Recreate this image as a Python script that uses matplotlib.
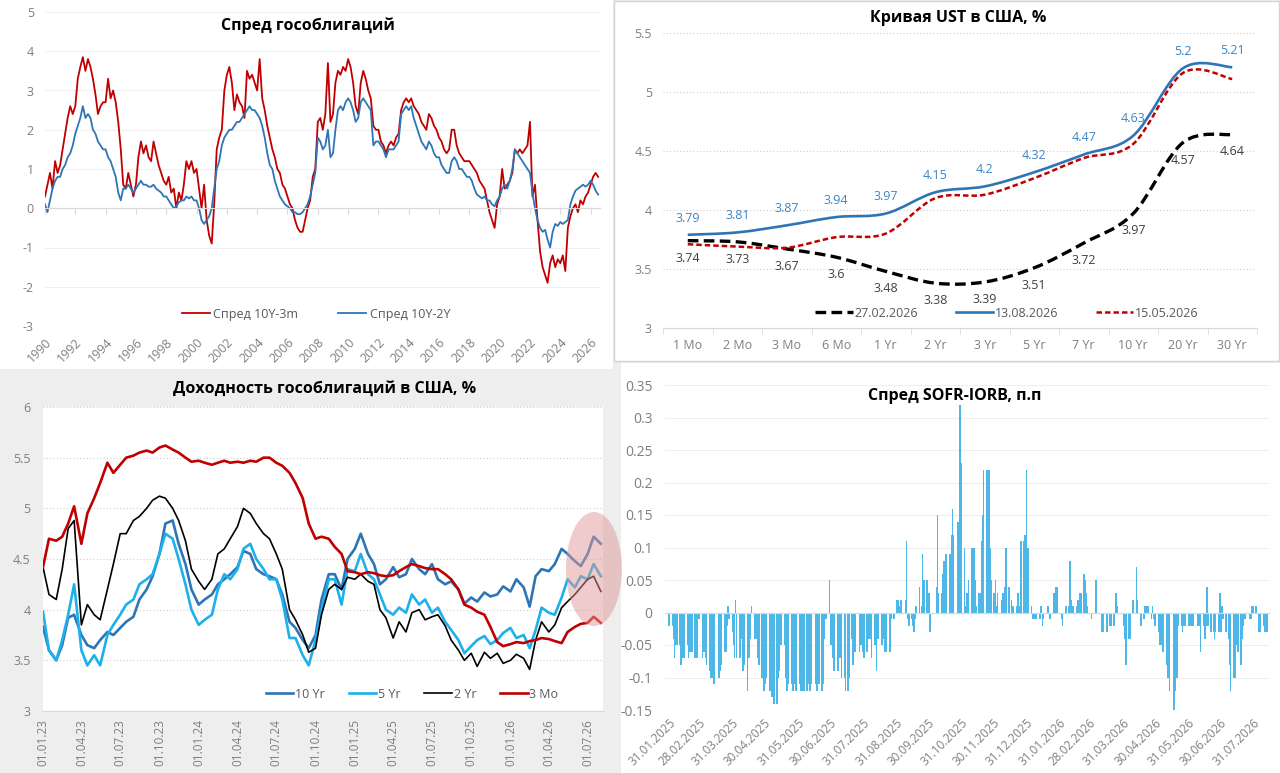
import numpy as np
import pandas as pd
import matplotlib
matplotlib.use("Agg")
import matplotlib.pyplot as plt
from matplotlib.lines import Line2D
from matplotlib.patches import Rectangle, Ellipse, PathPatch
from matplotlib.path import Path

plt.rcParams["font.family"] = ["Open Sans", "DejaVu Sans"]

W, H = 1280, 773
TICK_C = "#7f7f7f"
LEG_C = "#595959"
GRID_C = "#d9d9d9"

# ---------------- panel 1: spreads, every two months from Jan 1990 ----------------
spread_10y3m = [
    0.3, 0.6, 0.9, 0.5, 1.2, 0.9,   1.1, 1.5, 1.9, 2.3, 2.6, 2.4,   2.6, 3.3, 3.6, 3.85, 3.5, 3.8,
    3.6, 3.3, 2.9, 2.4, 2.6, 2.7,   2.7, 3.3, 2.8, 3.0, 2.7, 2.2,   1.5, 0.6, 0.5, 0.9, 0.6, 0.3,
    0.6, 1.3, 1.7, 1.4, 1.6, 1.3,   1.2, 1.7, 1.4, 1.1, 0.9, 0.7,   0.6, 0.8, 0.4, 0.5, 0.0, 0.4,
    0.2, 0.6, 1.2, 1.0, 1.2, 0.9,   1.0, 0.5, 0.0, 0.6, -0.3, -0.7, -0.9, 0.1, 1.5, 1.8, 2.0, 3.0,
    3.4, 3.6, 3.2, 2.5, 2.9, 2.7,   2.6, 2.3, 3.5, 3.3, 3.4, 3.2,   3.0, 3.8, 2.8, 2.5, 2.1, 1.8,
    1.5, 1.3, 1.0, 0.9, 0.6, 0.5,   0.3, 0.1, 0.0, -0.3, -0.5, -0.6, -0.6, -0.3, 0.0, 0.2, 0.8, 1.0,
    2.2, 2.3, 2.0, 2.4, 3.7, 2.2,   2.4, 3.2, 3.5, 3.4, 3.6, 3.5,   3.8, 3.6, 3.2, 2.6, 2.4, 3.2,
    3.5, 3.3, 3.0, 2.8, 2.1, 2.0,   2.0, 1.7, 1.6, 1.4, 1.6, 1.7,   1.6, 1.8, 1.9, 2.5, 2.7, 2.8,
    2.7, 2.8, 2.6, 2.5, 2.4, 2.2,   2.1, 2.0, 2.4, 2.3, 2.1, 2.0,   1.8, 1.7, 1.5, 1.4, 1.5, 2.0,
    2.0, 1.6, 1.4, 1.3, 1.2, 1.2,   1.2, 1.1, 1.0, 0.9, 0.7, 0.6,   0.5, 0.2, -0.1, -0.3, -0.5, 0.1,
    0.3, 1.0, 0.5, 0.6, 0.7, 0.9,   1.5, 1.4, 1.5, 1.4, 1.5, 1.6,   2.2, 0.3, 0.6, -0.3, -1.1, -1.5,
    -1.7, -1.9, -1.4, -1.2, -1.5, -1.3, -1.4, -1.2, -1.6, -0.5, -0.2, 0.0, 0.1, -0.1, 0.2, 0.1, 0.3, 0.4,
    0.6, 0.8, 0.9, 0.8,
]
spread_10y2y = [
    0.1, -0.1, 0.2, 0.5, 0.7, 0.8,  0.8, 1.0, 1.1, 1.3, 1.4, 1.6,   1.9, 2.1, 2.3, 2.6, 2.3, 2.4,
    2.3, 2.0, 1.9, 1.7, 1.6, 1.5,   1.5, 1.3, 1.2, 1.0, 0.8, 0.4,   0.2, 0.5, 0.5, 0.6, 0.5, 0.4,
    0.5, 0.6, 0.7, 0.6, 0.6, 0.55,  0.55, 0.6, 0.5, 0.45, 0.4, 0.3, 0.3, 0.2, 0.1, 0.0, 0.05, 0.15,
    0.2, 0.2, 0.3, 0.25, 0.3, 0.2,  0.2, 0.0, -0.3, -0.4, -0.3, -0.2, 0.0, 0.5, 1.0, 1.2, 1.6, 1.8,
    1.9, 2.0, 2.0, 2.1, 2.2, 2.2,   2.3, 2.4, 2.5, 2.6, 2.5, 2.5,   2.4, 2.3, 2.1, 1.8, 1.4, 1.1,
    1.0, 0.7, 0.5, 0.3, 0.2, 0.1,   0.05, 0.0, -0.1, -0.1, -0.15, -0.15, -0.1, 0.0, 0.1, 0.3, 0.6, 0.9,
    1.8, 1.7, 1.5, 1.6, 2.0, 1.3,   1.4, 2.0, 2.5, 2.6, 2.5, 2.7,   2.8, 2.7, 2.5, 2.2, 2.3, 2.7,
    2.8, 2.7, 2.6, 2.5, 1.6, 1.7,   1.7, 1.6, 1.5, 1.3, 1.5, 1.5,   1.5, 1.6, 1.7, 2.4, 2.5, 2.6,
    2.5, 2.6, 2.3, 2.1, 1.9, 1.7,   1.6, 1.5, 1.7, 1.6, 1.4, 1.3,   1.3, 1.1, 1.0, 0.9, 0.9, 1.2,
    1.3, 1.2, 1.0, 1.0, 0.9, 0.8,   0.8, 0.7, 0.5, 0.35, 0.3, 0.25, 0.3, 0.2, 0.2, 0.1, 0.05, 0.2,
    0.3, 0.5, 0.6, 0.5, 0.7, 1.0,   1.5, 1.4, 1.3, 1.2, 1.1, 1.0,   0.9, 0.4, 0.0, -0.3, -0.5, -0.6,
    -0.55, -0.8, -1.0, -0.6, -0.4, -0.45, -0.35, -0.4, -0.35, -0.3, 0.1, 0.3, 0.45, 0.5, 0.55, 0.6, 0.55, 0.6,
    0.7, 0.6, 0.45, 0.35,
]
spread_dates = pd.date_range("1990-01-01", periods=len(spread_10y3m), freq="2MS")
spread_years = list(range(1990, 2027, 2))

# ---------------- panel 2: UST curve ----------------
tenors = ["1 Mo", "2 Mo", "3 Mo", "6 Mo", "1 Yr", "2 Yr", "3 Yr", "5 Yr", "7 Yr", "10 Yr", "20 Yr", "30 Yr"]
curve_feb = [3.74, 3.73, 3.67, 3.60, 3.48, 3.38, 3.39, 3.51, 3.72, 3.97, 4.57, 4.64]
curve_aug = [3.79, 3.81, 3.87, 3.94, 3.97, 4.15, 4.20, 4.32, 4.47, 4.63, 5.20, 5.21]
curve_may = [3.71, 3.69, 3.68, 3.77, 3.80, 4.10, 4.13, 4.27, 4.44, 4.56, 5.16, 5.11]

# ---------------- panel 3: yields, semi-monthly from 01.01.23 ----------------
y10 = [3.83, 3.6, 3.5, 3.65, 3.92, 3.95, 3.75, 3.65, 3.62, 3.7, 3.78, 3.75,
       3.82, 3.88, 3.93, 4.1, 4.2, 4.33, 4.55, 4.85, 4.88, 4.65, 4.45, 4.2,
       4.05, 4.1, 4.15, 4.25, 4.3, 4.35, 4.42, 4.58, 4.55, 4.4, 4.35, 4.33,
       4.3, 4.15, 3.88, 3.82, 3.7, 3.62, 3.75, 4.1, 4.35, 4.35, 4.2, 4.5,
       4.6, 4.75, 4.55, 4.45, 4.25, 4.3, 4.42, 4.32, 4.35, 4.5, 4.4, 4.35,
       4.45, 4.3, 4.25, 4.28, 4.2, 4.06, 4.12, 4.08, 4.17, 4.13, 4.15, 4.23,
       4.18, 4.3, 4.22, 4.03, 4.33, 4.4, 4.38, 4.45, 4.6, 4.55, 4.48, 4.43,
       4.55, 4.72, 4.65]
y5 = [3.98, 3.6, 3.5, 3.7, 3.95, 4.25, 3.6, 3.45, 3.55, 3.45, 3.75, 3.85,
      3.95, 4.05, 4.1, 4.25, 4.3, 4.35, 4.55, 4.75, 4.7, 4.5, 4.25, 4.0,
      3.85, 3.9, 3.95, 4.2, 4.35, 4.3, 4.4, 4.6, 4.65, 4.5, 4.4, 4.3,
      4.3, 4.1, 3.72, 3.72, 3.55, 3.45, 3.7, 4.0, 4.3, 4.3, 4.05, 4.4,
      4.38, 4.55, 4.35, 4.3, 4.15, 4.0, 3.95, 4.02, 3.97, 4.15, 4.05, 4.1,
      3.97, 4.02, 3.88, 3.8, 3.7, 3.57, 3.64, 3.7, 3.74, 3.66, 3.7, 3.77,
      3.82, 3.72, 3.75, 3.62, 3.8, 4.02, 3.97, 3.95, 4.12, 4.3, 4.22, 4.33,
      4.3, 4.45, 4.33]
y2 = [4.42, 4.15, 4.1, 4.4, 4.8, 4.88, 3.85, 4.05, 3.95, 3.9, 4.2, 4.45,
      4.75, 4.75, 4.88, 4.92, 5.0, 5.08, 5.12, 5.1, 5.0, 4.88, 4.68, 4.4,
      4.28, 4.2, 4.3, 4.55, 4.6, 4.7, 4.82, 5.0, 4.95, 4.85, 4.75, 4.7,
      4.55, 4.4, 4.0, 3.9, 3.75, 3.58, 3.62, 3.95, 4.2, 4.25, 4.2, 4.32,
      4.3, 4.35, 4.28, 4.25, 4.0, 3.92, 3.72, 3.88, 3.78, 3.97, 4.0, 3.9,
      3.93, 3.95, 3.84, 3.7, 3.6, 3.5, 3.57, 3.44, 3.58, 3.52, 3.57, 3.47,
      3.5, 3.56, 3.52, 3.41, 3.7, 3.88, 3.78, 3.85, 4.02, 4.08, 4.15, 4.22,
      4.3, 4.33, 4.18]
y3m = [4.42, 4.7, 4.68, 4.72, 4.85, 5.02, 4.65, 4.95, 5.1, 5.25, 5.45, 5.35,
       5.43, 5.5, 5.52, 5.55, 5.57, 5.55, 5.6, 5.62, 5.58, 5.55, 5.5, 5.46,
       5.47, 5.45, 5.43, 5.45, 5.47, 5.45, 5.46, 5.45, 5.47, 5.46, 5.5, 5.5,
       5.45, 5.42, 5.35, 5.25, 5.1, 4.85, 4.7, 4.72, 4.7, 4.62, 4.55, 4.38,
       4.37, 4.35, 4.37, 4.36, 4.34, 4.33, 4.34, 4.38, 4.42, 4.45, 4.43, 4.41,
       4.4, 4.4, 4.35, 4.3, 4.2, 4.05, 4.02, 3.98, 3.95, 3.83, 3.68, 3.64,
       3.66, 3.68, 3.67, 3.69, 3.7, 3.72, 3.71, 3.69, 3.67, 3.78, 3.83, 3.86,
       3.87, 3.93, 3.87]
yield_dates = pd.date_range("2023-01-01", periods=len(y10), freq="SMS")

# ---------------- panel 4: SOFR-IORB, bp per business day, by month ----------------
sofr_months = ["2025-01", "2025-02", "2025-03", "2025-04", "2025-05", "2025-06", "2025-07",
               "2025-08", "2025-09", "2025-10", "2025-11", "2025-12", "2026-01", "2026-02",
               "2026-03", "2026-04", "2026-05", "2026-06", "2026-07", "2026-08"]
sofr_bp = [
    [-2],
    [-2, -4, -7, -5, -5, -5, -8, -7, -7, -7, -5, -7, -6, -6, -6, -7, -6, -7, -1, -1],
    [-7, -6, -6, -7, -8, -9, -10, -10, -9, -11, -10, -10, -9, -8, -6, -6, -2, 1, -1, -3],
    [-5, -7, 2, -7, -7, -4, -9, -8, -12, -7, -7, -4, 1, -4, -4, -7, -8, -10, -12, -12],
    [-11, -10, -12, -10, -13, -14, -14, -10, -9, -5, -5, -5, -10, -12, -11, -11, -12, -11, -12, -12],
    [-11, -12, -12, -11, -12, -12, -11, -12, -12, -11, -11, -12, -11, -11, -12, -11, -4, -1, -1, 5],
    [-5, -1, -7, -9, -9, -7, -7, -10, -10, -12, -12, -10, -4, -8, -4, -6, -6, -5, -5, -6],
    [-7, -6, -4, -4, -4, -7, -5, -5, -9, -4, -5, -4, -3, -6, -6, -6, -6, -1, 0, -1],
    [2, 2, 0, 1, 2, 2, 11, -1, -2, -1, -2, -3, -1, 1, 4, 1, 9, 5, 5, 3],
    [3, -3, 0, 0, 4, 15, 3, 3, 6, 8, 9, 9, 9, 12, 16, 12, 14, 12, 32, 23],
    [10, 1, 3, 3, 5, 10, 5, 10, 5, 1, 3, 3, 11, 15, 22, 22, 22, 22, 10, 5],
    [3, 5, 1, 3, 2, 3, 1, 4, 10, 4, 2, 1, 1, 1, 3, 1, 11, 11, 12, 22],
    [10, 10, 1, -1, -1, -1, 0, -1, 1, -2, -1, 0, 1, 0, -1, 3, 3, 4, 4, 0],
    [-1, -2, 0, 0, 1, 1, 8, 2, 1, 1, 1, 2, 2, 3, 3, 6, 5, 3, 1, 0],
    [-1, 0, 0, 0, 5, 0, 0, -3, -3, -3, -3, 0, -2, -2, -2, 3, 1, 0, 0, 0],
    [-2, -4, -8, -4, -4, 0, 2, 7, 2, 0, 0, -2, -1, 1, 1, 1, -1, 1, -1, -2],
    [-2, -3, -5, -5, -5, -6, -8, -10, -10, -12, -15, -12, -10, -10, -2, -2, -3, -2, -2, -2],
    [-2, -2, -2, -1, -2, -2, -2, -2, -6, -2, -4, -2, 4, -2, -3, -3, -4, -3, -3, 3],
    [-3, 1, -1, -3, -4, -8, -12, -10, -10, -5, -6, -8, -4, -2, -1, -1, -1, -1, 1, 1],
    [1, 0, -3, -3, -3, -2, -3, -3, -3],
]


def px_rect(x0, y0, x1, y1):
    return [x0 / W, 1 - y1 / H, (x1 - x0) / W, (y1 - y0) / H]


def bg_rect(fig, x0, y0, x1, y1, edge=None):
    r = Rectangle((x0 / W, 1 - y1 / H), (x1 - x0) / W, (y1 - y0) / H, transform=fig.transFigure,
                  facecolor="white", edgecolor=edge if edge else "none", lw=1, zorder=-10)
    fig.add_artist(r)


def smooth_path(xs, ys):
    # Excel-like smoothed line: cubic Bezier through the points
    pts = np.column_stack([xs, ys]).astype(float)
    n = len(pts)
    verts, codes = [pts[0]], [Path.MOVETO]
    for i in range(n - 1):
        p0, p1, p2, p3 = pts[max(i - 1, 0)], pts[i], pts[i + 1], pts[min(i + 2, n - 1)]
        verts += [p1 + (p2 - p0) / 6, p2 - (p3 - p1) / 6, p2]
        codes += [Path.CURVE4] * 3
    return Path(verts, codes)


def fmt(v):
    return "{:g}".format(round(v, 2))


fig = plt.figure(figsize=(W / 100, H / 100), dpi=100, facecolor="#eeeeee")
bg_rect(fig, 0, 0, 613, 369)
bg_rect(fig, 614, 1, 1279, 361, edge="#d4d4d4")
bg_rect(fig, 621, 363, 1280, 773)

# ---------------- panel 1 ----------------
ax1 = fig.add_axes(px_rect(45, 12, 600, 326))
ax1.set_facecolor("none")
ax1.plot(spread_dates, spread_10y3m, color="#c00000", lw=1.3, label="Спред 10Y-3m")
ax1.plot(spread_dates, spread_10y2y, color="#2e75b6", lw=1.3, label="Спред 10Y-2Y")
ax1.set_ylim(-3, 5)
ax1.set_xlim(pd.Timestamp("1990-01-01"), pd.Timestamp("2026-08-15"))
ax1.set_yticks(range(-3, 6))
ax1.set_yticklabels([str(v) for v in range(-3, 6)])
ax1.yaxis.grid(True, color="#f0f0f0", lw=0.8)
ax1.set_axisbelow(True)
for s in ["top", "right", "left"]:
    ax1.spines[s].set_visible(False)
ax1.spines["bottom"].set_position(("data", 0))
ax1.spines["bottom"].set_color(GRID_C)
year_ticks = [pd.Timestamp(f"{y}-01-01") for y in spread_years]
ax1.set_xticks(year_ticks)
ax1.tick_params(axis="x", length=4, color=GRID_C, labelbottom=False)
ax1.tick_params(axis="y", length=0, labelsize=9, labelcolor=TICK_C, pad=8)
for t, y in zip(year_ticks, spread_years):
    ax1.text(t, -0.03, str(y), transform=ax1.get_xaxis_transform(), rotation=45,
             ha="right", va="top", fontsize=9, color=TICK_C, rotation_mode="anchor")
ax1.legend(loc="center", bbox_to_anchor=(316 / W, 1 - 314 / H), bbox_transform=fig.transFigure,
           ncol=2, frameon=False, fontsize=9, labelcolor=LEG_C, handlelength=2.2,
           handletextpad=0.3, columnspacing=3.2)
fig.text(308 / W, 1 - 26 / H, "Спред гособлигаций", ha="center", va="center",
         fontsize=11.5, fontweight="bold", color="black")

# ---------------- panel 2 ----------------
ax2 = fig.add_axes(px_rect(663, 33, 1257, 328))
ax2.set_facecolor("none")
xi = np.arange(len(tenors))
ax2.add_patch(PathPatch(smooth_path(xi, curve_feb), fill=False, color="black", lw=2.4,
                        linestyle=(0, (3.2, 1.6)), capstyle="butt"))
ax2.add_patch(PathPatch(smooth_path(xi, curve_aug), fill=False, color="#2e75b6", lw=1.9))
ax2.add_patch(PathPatch(smooth_path(xi, curve_may), fill=False, color="#c00000", lw=1.8,
                        linestyle=(0, (2.2, 1.2))))
for i, v in enumerate(curve_aug):
    ax2.annotate(fmt(v), (i, v), xytext=(0, 12), textcoords="offset points", ha="center",
                 va="center", fontsize=9, color="#3d85c6")
for i, v in enumerate(curve_feb):
    ax2.annotate(fmt(v), (i, v), xytext=(0, -12.5), textcoords="offset points", ha="center",
                 va="center", fontsize=9, color="#404040")
ax2.set_xlim(-0.5, len(tenors) - 0.5)
ax2.set_ylim(3, 5.5)
ax2.set_xticks(xi)
ax2.set_xticklabels(tenors)
ax2.set_xticks(np.arange(len(tenors) + 1) - 0.5, minor=True)
ax2.set_yticks([3, 3.5, 4, 4.5, 5, 5.5])
ax2.set_yticklabels(["3", "3.5", "4", "4.5", "5", "5.5"])
ax2.yaxis.grid(True, color="#cfcfcf", lw=0.8, linestyle=(0, (1, 2)))
ax2.set_axisbelow(True)
for s in ["top", "right", "left"]:
    ax2.spines[s].set_visible(False)
ax2.spines["bottom"].set_color(GRID_C)
ax2.tick_params(axis="x", which="major", length=0, labelsize=9, labelcolor=TICK_C, pad=8)
ax2.tick_params(axis="x", which="minor", length=4, color=GRID_C)
ax2.tick_params(axis="y", length=0, labelsize=9, labelcolor=TICK_C, pad=8)
h2 = [Line2D([], [], color="black", lw=2.4, linestyle=(0, (3.2, 1.6))),
      Line2D([], [], color="#2e75b6", lw=1.9),
      Line2D([], [], color="#c00000", lw=1.8, linestyle=(0, (2.2, 1.2)))]
ax2.legend(h2, ["27.02.2026", "13.08.2026", "15.05.2026"], loc="center",
           bbox_to_anchor=(1007 / W, 1 - 313 / H), bbox_transform=fig.transFigure, ncol=3,
           frameon=False, fontsize=9, labelcolor=LEG_C, handlelength=3.0, handletextpad=0.15,
           columnspacing=3.0)
fig.text(958 / W, 1 - 18 / H, "Кривая UST в США, %", ha="center", va="center",
         fontsize=11.5, fontweight="bold", color="black")

# ---------------- panel 3 ----------------
ax3 = fig.add_axes(px_rect(43, 407, 603, 711))
ax3.set_facecolor("white")
ax3.plot(yield_dates, y10, color="#2e75b6", lw=1.9, label="10 Yr")
ax3.plot(yield_dates, y5, color="#1eb0ea", lw=1.9, label="5 Yr")
ax3.plot(yield_dates, y2, color="black", lw=1.2, label="2 Yr")
ax3.plot(yield_dates, y3m, color="#c00000", lw=1.9, label="3 Mo")
ax3.set_ylim(3, 6)
ax3.set_xlim(pd.Timestamp("2023-01-01"), pd.Timestamp("2026-08-06"))
ax3.set_yticks([3, 3.5, 4, 4.5, 5, 5.5, 6])
ax3.set_yticklabels(["3", "3.5", "4", "4.5", "5", "5.5", "6"])
q_ticks = pd.date_range("2023-01-01", "2026-07-01", freq="QS")
ax3.set_xticks(q_ticks)
ax3.set_xticklabels([d.strftime("%d.%m.%y") for d in q_ticks], rotation=90)
ax3.yaxis.grid(True, color="#cfcfcf", lw=0.8, linestyle=(0, (1, 2)))
ax3.set_axisbelow(True)
for s in ["top", "right", "left"]:
    ax3.spines[s].set_visible(False)
ax3.spines["bottom"].set_color(GRID_C)
ax3.tick_params(axis="x", length=0, labelsize=8.5, labelcolor=TICK_C, pad=6)
ax3.tick_params(axis="y", length=0, labelsize=9, labelcolor=TICK_C, pad=9)
ax3.legend(loc="center", bbox_to_anchor=(412 / W, 1 - 694 / H), bbox_transform=fig.transFigure,
           ncol=4, frameon=False, fontsize=9, labelcolor=LEG_C, handlelength=2.2,
           handletextpad=0.15, columnspacing=1.9)
fig.text(325 / W, 1 - 389 / H, "Доходность гособлигаций в США, %", ha="center", va="center",
         fontsize=11.5, fontweight="bold", color="black")
fig.add_artist(Ellipse((594 / W, 1 - 569 / H), 56 / W, 114 / H, transform=fig.transFigure,
                       facecolor="#e09999", edgecolor="none", alpha=0.5, zorder=20))

# ---------------- panel 4 ----------------
sofr_dates, sofr_vals = [], []
for m, vals in zip(sofr_months, sofr_bp):
    start = pd.Timestamp(m + "-01")
    if m == "2025-01":
        days = pd.bdate_range("2025-01-31", "2025-01-31")
    elif m == "2026-08":
        days = pd.bdate_range(start, "2026-08-13")
    else:
        days = pd.bdate_range(start, start + pd.offsets.MonthEnd(0))
    idx = np.linspace(0, len(days) - 1, len(vals)).round().astype(int)
    sofr_dates += list(days[idx])
    sofr_vals += [v / 100 for v in vals]

ax4 = fig.add_axes(px_rect(665, 385, 1269, 710))
ax4.set_facecolor("none")
ax4.bar(sofr_dates, sofr_vals, width=1.5, color="#4db8e8", linewidth=0)
ax4.set_ylim(-0.15, 0.35)
ax4.set_xlim(pd.Timestamp("2025-01-27"), pd.Timestamp("2026-08-15"))
yt4 = np.round(np.arange(-0.15, 0.351, 0.05), 2)
ax4.set_yticks(yt4)
ax4.set_yticklabels([fmt(v) for v in yt4])
ax4.yaxis.grid(True, color="#eeeeee", lw=0.8)
ax4.set_axisbelow(True)
for s in ["top", "right", "left"]:
    ax4.spines[s].set_visible(False)
ax4.spines["bottom"].set_position(("data", 0))
ax4.spines["bottom"].set_color(GRID_C)
m_ticks = pd.date_range("2025-01-31", "2026-07-31", freq="ME")
ax4.set_xticks(m_ticks)
ax4.tick_params(axis="x", length=0, labelbottom=False)
ax4.tick_params(axis="y", length=0, labelsize=10, labelcolor=TICK_C, pad=9)
for t in m_ticks:
    ax4.text(t, -0.02, t.strftime("%d.%m.%Y"), transform=ax4.get_xaxis_transform(), rotation=45,
             ha="right", va="top", fontsize=8.5, color=TICK_C, rotation_mode="anchor")
fig.text(955 / W, 1 - 396 / H, "Спред SOFR-IORB, п.п", ha="center", va="center",
         fontsize=11.5, fontweight="bold", color="black")

fig.savefig("out.png", dpi=100, facecolor=fig.get_facecolor())
